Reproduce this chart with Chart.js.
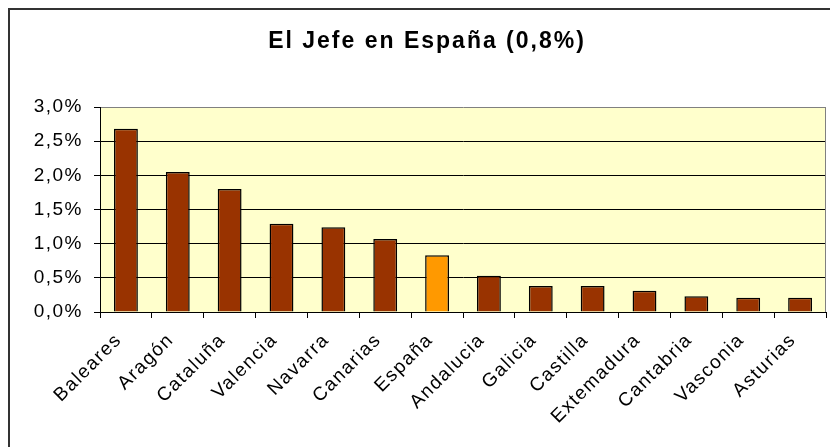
<!DOCTYPE html>
<html>
<head>
<meta charset="utf-8">
<script src="https://cdn.jsdelivr.net/npm/chart.js@4"></script>
<style>
  html, body { margin: 0; padding: 0; background: #fff; }
  #wrap { width: 830px; height: 447px; }
</style>
</head>
<body>
<div id="wrap"><canvas id="chart" width="830" height="447"></canvas></div>
<script>
const regions = ['Baleares', 'Aragón', 'Cataluña', 'Valencia', 'Navarra', 'Canarias', 'España',
    'Andalucia', 'Galicia', 'Castilla', 'Extemadura', 'Cantabria', 'Vasconia', 'Asturias'];
const shares = [2.68, 2.05, 1.80, 1.29, 1.24, 1.07, 0.83, 0.53, 0.38, 0.38, 0.31, 0.23, 0.21, 0.21];
const yTicks = [0, 0.5, 1.0, 1.5, 2.0, 2.5, 3.0];
const titleText = 'El Jefe en España (0,8%)';

const barColors = regions.map(r => r === 'España' ? '#FF9900' : '#993300');
const FONT = '"Liberation Sans", Arial, sans-serif';

// fondo amarillo del área de trazado + marco exterior + título
const frame = {
    id: 'frame',
    beforeUpdate(chart) { chart.ctx.letterSpacing = '1.5px'; },
    beforeDraw(chart) {
        const { ctx, chartArea: a } = chart;
        ctx.letterSpacing = '1.5px';
        ctx.save();
        ctx.fillStyle = '#FFFFCC';
        ctx.fillRect(a.left, a.top, a.right - a.left, a.bottom - a.top);
        ctx.restore();
    },
    afterDraw(chart) {
        const { ctx, chartArea: a } = chart;
        ctx.save();
        ctx.strokeStyle = '#808080';
        ctx.lineWidth = 1;
        ctx.beginPath();
        ctx.moveTo(a.right - 0.5, a.top);
        ctx.lineTo(a.right - 0.5, a.bottom);
        ctx.stroke();

        ctx.strokeStyle = '#333';
        ctx.lineWidth = 2;
        ctx.beginPath();
        ctx.moveTo(9, 447);
        ctx.lineTo(9, 9);
        ctx.lineTo(830, 9);
        ctx.stroke();

        ctx.fillStyle = '#000';
        ctx.letterSpacing = '2px';
        ctx.font = 'bold 23px ' + FONT;
        ctx.textAlign = 'center';
        ctx.textBaseline = 'alphabetic';
        ctx.fillText(titleText, 427, 48);
        ctx.restore();
    }
};

new Chart(document.getElementById('chart'), {
    type: 'bar',
    data: {
        labels: regions,
        datasets: [{
            data: shares,
            backgroundColor: barColors,
            borderColor: '#000',
            borderWidth: 1.5,
            barPercentage: 0.46,
            categoryPercentage: 1.0
        }]
    },
    options: {
        responsive: false,
        animation: false,
        layout: { padding: { top: 107, right: 4, left: 0, bottom: 0 } },
        plugins: { legend: { display: false }, title: { display: false }, tooltip: { enabled: false } },
        scales: {
            x: {
                afterFit(s) { s.height = 135; },
                grid: { offset: true, drawOnChartArea: false, color: '#000', tickLength: 6 },
                border: { color: '#000', width: 1 },
                ticks: {
                    color: '#000',
                    font: { family: FONT, size: 19 },
                    minRotation: 45, maxRotation: 45, padding: 11, labelOffset: -7
                }
            },
            y: {
                min: 0, max: 3,
                afterFit(s) { s.width = 100; },
                afterBuildTicks(s) { s.ticks = yTicks.map(v => ({ value: v })); },
                grid: {
                    color: ctx => ctx.tick && ctx.tick.value === 3 ? '#808080' : '#000',
                    tickColor: '#000', tickLength: 6, lineWidth: 1
                },
                border: { color: '#000', width: 1 },
                ticks: {
                    color: '#000',
                    font: { family: FONT, size: 19 },
                    padding: 11,
                    callback: v => v.toFixed(1).replace('.', ',') + '%'
                }
            }
        }
    },
    plugins: [frame]
});
</script>
</body>
</html>
